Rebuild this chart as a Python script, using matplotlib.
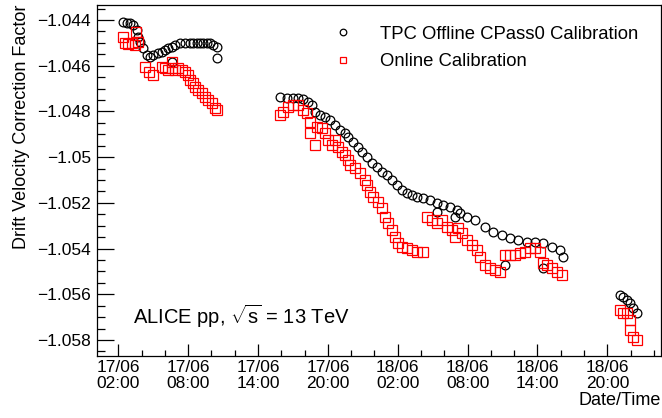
import numpy as np
import pandas as pd
import matplotlib
matplotlib.use("Agg")
import matplotlib.pyplot as plt
import matplotlib.dates as mdates
from matplotlib.ticker import FuncFormatter, MultipleLocator

plt.rcParams['font.family'] = ['Liberation Sans', 'DejaVu Sans']
plt.rcParams['mathtext.fontset'] = 'custom'
plt.rcParams['mathtext.rm'] = 'Liberation Sans'
plt.rcParams['mathtext.it'] = 'Liberation Sans'

# hours since 17/06 00:00
offline_hours = [
    2.38, 2.72, 3.00, 3.29, 3.58, 3.72, 3.86, 4.10, 4.44, 4.72, 5.01, 5.44, 5.73,
    6.01, 6.29, 6.59, 6.87, 7.30, 7.73, 8.16, 8.44, 8.73, 9.02, 9.30, 9.59, 9.88,
    10.16, 10.45, 10.45, 6.59,
    15.89, 16.46, 17.03, 17.46, 17.89, 18.32, 18.61, 18.89, 19.32, 19.75, 20.18,
    20.61, 21.04, 21.47, 21.75, 22.18, 22.61, 22.91, 23.33, 23.76, 24.19, 24.62,
    25.05, 25.48, 25.91, 26.34, 26.77, 27.20, 27.63, 28.20, 28.77, 29.35, 29.91,
    30.49, 31.06, 31.35, 31.92, 32.64, 33.50, 34.21, 34.93, 35.64, 36.36, 37.08,
    37.79, 38.50, 39.22, 39.94, 40.22, 29.35, 30.92, 35.22, 38.50,
    45.09, 45.37, 45.67, 45.95, 46.23, 46.52,
]
offline_values = [
    -1.04407, -1.04412, -1.04414, -1.04422, -1.04444, -1.04473, -1.04495, -1.04524,
    -1.04553, -1.04561, -1.04553, -1.04546, -1.04539, -1.04531, -1.04524, -1.04517,
    -1.04509, -1.04502, -1.04499, -1.04502, -1.04502, -1.04499, -1.04502, -1.04499,
    -1.04499, -1.04502, -1.04509, -1.04517, -1.04568, -1.04582,
    -1.04738, -1.04743, -1.04743, -1.04743, -1.04747, -1.04757, -1.04772, -1.04801,
    -1.04816, -1.04823, -1.04838, -1.04859, -1.04881, -1.04896, -1.04911, -1.04932,
    -1.04954, -1.04976, -1.04998, -1.05027, -1.05042, -1.05064, -1.05078, -1.05100,
    -1.05122, -1.05144, -1.05158, -1.05166, -1.05173, -1.05180, -1.05188, -1.05202,
    -1.05209, -1.05217, -1.05231, -1.05246, -1.05261, -1.05275, -1.05304, -1.05326,
    -1.05341, -1.05355, -1.05363, -1.05370, -1.05370, -1.05377, -1.05392, -1.05406,
    -1.05436, -1.05239, -1.05261, -1.05472, -1.05486,
    -1.05603, -1.05613, -1.05625, -1.05639, -1.05661, -1.05683,
]

online_hours = [
    2.38, 2.58, 2.86, 3.15, 3.43, 3.52, 3.72, 4.29, 4.66, 5.01, 5.73, 6.01, 6.29,
    6.59, 6.59, 6.87, 7.15, 7.45, 7.73, 8.01, 8.16, 8.44, 8.59, 8.87, 9.16, 9.45,
    9.73, 10.02, 10.31, 10.45,
    15.89, 16.17, 16.60, 17.03, 17.46, 17.89, 18.18, 18.46, 18.46, 18.89, 19.04,
    19.47, 19.75, 20.04, 20.33, 20.61, 20.90, 21.19, 21.47, 21.75, 21.90, 22.33,
    22.76, 23.19, 23.33, 23.62, 23.90, 24.33, 24.62, 24.91, 25.19, 25.48, 25.77,
    26.05, 26.34, 26.77, 27.20, 27.63, 28.20,
    28.49, 28.92, 29.35, 29.78, 30.20, 30.64, 30.92, 31.20, 31.49, 31.92, 32.35,
    32.78, 33.07, 33.50, 33.93, 34.36, 34.79,
    35.22, 35.64, 36.07, 36.50, 36.93, 37.36, 37.79, 38.21, 38.50, 38.79, 39.22,
    39.65, 40.08,
    45.09, 45.37, 45.67, 45.95, 45.95, 46.23, 46.52,
]
online_values = [
    -1.04476, -1.04499, -1.04505, -1.04502, -1.04509, -1.04451, -1.04495, -1.04604,
    -1.04626, -1.04641, -1.04604, -1.04611, -1.04619, -1.04582, -1.04611, -1.04619,
    -1.04611, -1.04619, -1.04626, -1.04641, -1.04663, -1.04677, -1.04692, -1.04706,
    -1.04721, -1.04736, -1.04750, -1.04764, -1.04786, -1.04794,
    -1.04816, -1.04801, -1.04779, -1.04772, -1.04772, -1.04794, -1.04808, -1.04845,
    -1.04896, -1.04947, -1.04867, -1.04874, -1.04896, -1.04925, -1.04947, -1.04925,
    -1.04954, -1.04976, -1.04991, -1.05013, -1.05034, -1.05049, -1.05071, -1.05100,
    -1.05122, -1.05151, -1.05173, -1.05195, -1.05224, -1.05261, -1.05289, -1.05319,
    -1.05348, -1.05377, -1.05392, -1.05399, -1.05406, -1.05414, -1.05414,
    -1.05261, -1.05275, -1.05289, -1.05275, -1.05304, -1.05319, -1.05348, -1.05311,
    -1.05333, -1.05363, -1.05384, -1.05406, -1.05436, -1.05472, -1.05486, -1.05494,
    -1.05501,
    -1.05428, -1.05428, -1.05428, -1.05421, -1.05414, -1.05399, -1.05399, -1.05414,
    -1.05464, -1.05472, -1.05486, -1.05501, -1.05516,
    -1.05669, -1.05683, -1.05683, -1.05713, -1.05756, -1.05786, -1.05800,
]

start = pd.Timestamp("2015-06-17 00:00")
t_off = start + pd.to_timedelta(offline_hours, unit="h")
t_on = start + pd.to_timedelta(online_hours, unit="h")

fig = plt.figure(figsize=(6.62, 4.18), dpi=100)
ax = fig.add_axes([0.1461, 0.1483, 0.8524, 0.8397])

ax.plot(t_off, offline_values, linestyle='none', marker='o', markersize=6.3,
        markerfacecolor='none', markeredgecolor='black', markeredgewidth=0.9,
        label='TPC Offline CPass0 Calibration')
ax.plot(t_on, online_values, linestyle='none', marker='s', markersize=6.5,
        markerfacecolor='none', markeredgecolor='#ff0000', markeredgewidth=0.9,
        label='Online Calibration')

ax.set_xlim(start + pd.Timedelta(hours=0.145), start + pd.Timedelta(hours=48.61))
ax.set_ylim(-1.0587, -1.043344)

ax.xaxis.set_major_locator(mdates.HourLocator(byhour=[2, 8, 14, 20]))
ax.xaxis.set_minor_locator(mdates.HourLocator(byhour=range(0, 24, 2)))
ax.xaxis.set_major_formatter(mdates.DateFormatter("%d/%m\n%H:%M"))
ax.yaxis.set_major_locator(MultipleLocator(0.002))
ax.yaxis.set_minor_locator(MultipleLocator(0.0005))
ax.yaxis.set_major_formatter(FuncFormatter(lambda v, p: ("%g" % round(v, 4)).replace("-", "\u2212")))

ax.tick_params(axis='both', which='both', direction='in', top=False, right=False,
               labelsize=12.5, width=0.9)
ax.tick_params(axis='y', which='major', length=12, pad=4)
ax.tick_params(axis='y', which='minor', length=6)
ax.tick_params(axis='x', which='major', length=8.5, pad=3)
ax.tick_params(axis='x', which='minor', length=4)
for lbl in ax.get_xticklabels():
    lbl.set_linespacing(1.05)
for s in ax.spines.values():
    s.set_linewidth(0.9)

ax.set_ylabel("Drift Velocity Correction Factor", fontsize=13, loc='top', labelpad=5)
ax.set_xlabel("Date/Time", fontsize=13, loc='right', labelpad=1)

ax.legend(loc='upper left', bbox_to_anchor=(0.4117, 0.941), frameon=False,
          fontsize=13.3, handletextpad=1.24, labelspacing=0.57, borderpad=0,
          borderaxespad=0, handlelength=1.5, markerscale=0.75)

ax.text(0.065, 0.09, r"ALICE pp, $\sqrt{\mathrm{s}}$ = 13 TeV", transform=ax.transAxes,
        fontsize=14.5, ha='left', va='baseline')

fig.savefig("out.png", dpi=100)
